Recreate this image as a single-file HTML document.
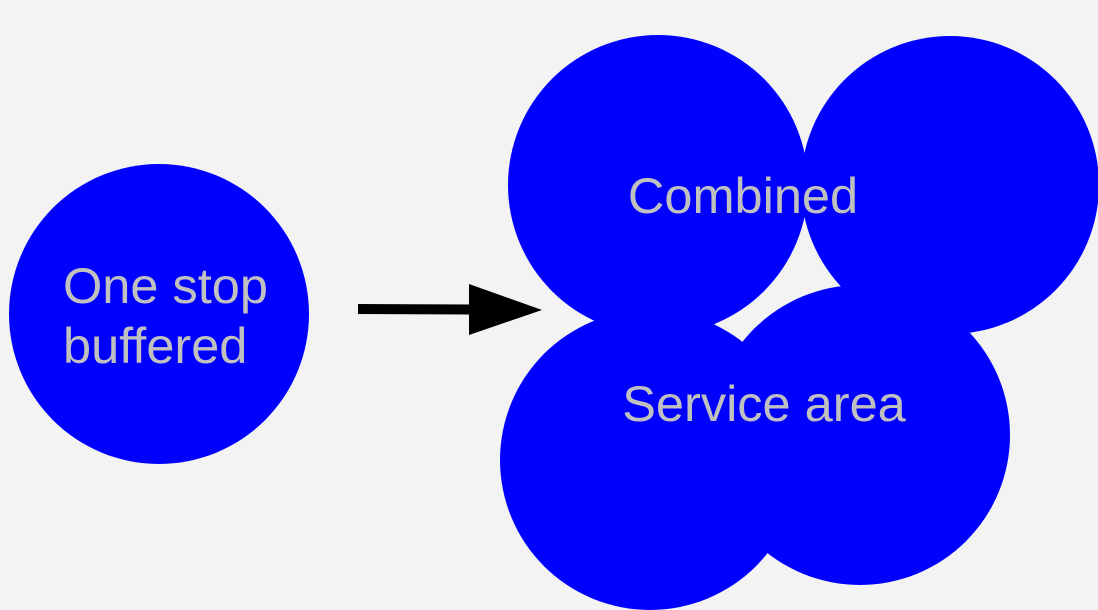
<!DOCTYPE html>
<html><head><meta charset="utf-8"><style>
html,body{margin:0;padding:0;background:#f3f3f3;}
</style></head><body>
<svg width="1098" height="610" viewBox="0 0 1098 610" xmlns="http://www.w3.org/2000/svg" style="display:block">
<rect width="1098" height="610" fill="#f3f3f3"/>
<circle cx="159" cy="314" r="150" fill="#0000ff"/>
<circle cx="658" cy="185" r="150" fill="#0000ff"/>
<circle cx="950" cy="185" r="149" fill="#0000ff"/>
<circle cx="650" cy="460" r="150" fill="#0000ff"/>
<circle cx="860" cy="435" r="150" fill="#0000ff"/>
<line x1="358" y1="309" x2="475" y2="309.5" stroke="#000" stroke-width="10"/>
<polygon points="469,284 542,310 469,335" fill="#000"/>
<g font-family="Liberation Sans, sans-serif" font-size="50.5" fill="#c0c0c0">
<text x="63" y="303">One stop</text>
<text x="63" y="363">buffered</text>
<text x="743" y="213" text-anchor="middle">Combined</text>
<text x="764" y="421" text-anchor="middle">Service area</text>
</g>
</svg>
</body></html>
